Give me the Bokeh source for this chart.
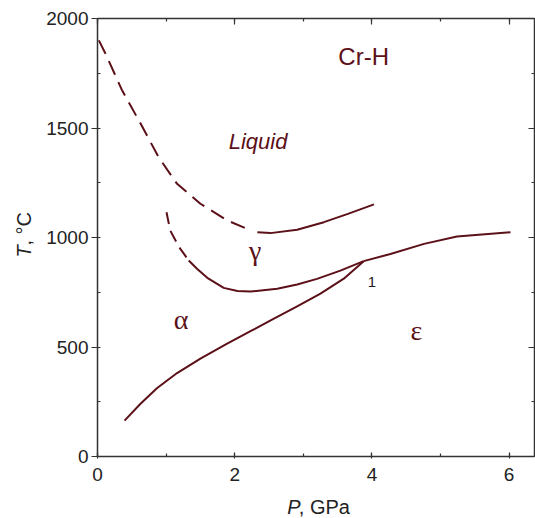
import math
from bokeh.plotting import figure
from bokeh.layouts import row, column
from bokeh.models import Range1d, LinearAxis, SingleIntervalTicker, Label, CustomJSTickFormatter
from bokeh.embed import file_html
from bokeh.resources import INLINE

# ---- data (P in GPa, T in degC) ----
liq_dash_P = [0.02, 0.117, 0.36, 0.63, 0.89, 1.16, 1.50, 1.89, 2.18]
liq_dash_T = [1900, 1839, 1671, 1519, 1367, 1245, 1154, 1078, 1040]

liq_solid_P = [2.33, 2.52, 2.91, 3.30, 3.65, 4.03]
liq_solid_T = [1024, 1020, 1035, 1070, 1108, 1151]

ga_dash_P = [1.006, 1.03, 1.06, 1.19, 1.33]
ga_dash_T = [1115, 1078, 1032, 956, 895]

ga_solid_P = [1.33, 1.45, 1.60, 1.84, 2.04, 2.23, 2.62, 2.91, 3.20, 3.54, 3.88]
ga_solid_T = [895, 857, 816, 770, 756, 753, 766, 785, 811, 849, 892]

ge_P = [3.88, 4.27, 4.76, 5.24, 6.02]
ge_T = [892, 925, 971, 1005, 1024]

ae_P = [0.394, 0.627, 0.87, 1.16, 1.50, 1.89, 2.23, 2.51, 2.91, 3.25, 3.59, 3.88]
ae_T = [164, 241, 313, 381, 447, 515, 572, 619, 686, 744, 812, 892]

x_ticks_major = 2
y_ticks_major = 500

CURVE = "#5c1018"
AX = "#333333"
TXT = "#222222"

LEFT_W = 40
BOT_H = 24
MAIN_W = 535 - LEFT_W
MAIN_H = 518 - BOT_H

p = figure(width=MAIN_W, height=MAIN_H,
           x_range=Range1d(0, 6.37), y_range=Range1d(0, 2000),
           output_backend="svg", toolbar_location=None,
           min_border_left=97 - LEFT_W, min_border_right=1,
           min_border_top=18, min_border_bottom=MAIN_H - 456)
p.grid.visible = False
p.outline_line_color = None
p.background_fill_color = "white"
p.border_fill_color = "white"

def style(ax, ticker, labels=True, tin=0, tout=0, min_in=0, min_out=0):
    ax.ticker = ticker
    ax.axis_line_color = AX
    ax.axis_line_width = 1.5
    ax.major_tick_line_color = AX
    ax.minor_tick_line_color = AX
    ax.major_tick_line_width = 1.2
    ax.minor_tick_line_width = 1.2
    ax.major_tick_in = tin
    ax.major_tick_out = tout
    ax.minor_tick_in = min_in
    ax.minor_tick_out = min_out
    ax.axis_label = None
    if labels:
        ax.major_label_text_font = "Liberation Sans"
        ax.major_label_text_font_size = "19px"
        ax.major_label_text_color = TXT
    else:
        ax.formatter = CustomJSTickFormatter(code="return ''")
        ax.major_label_standoff = 0

xb = p.xaxis[0]
style(xb, SingleIntervalTicker(interval=x_ticks_major, num_minor_ticks=2), True, 4, 2, 3, 0)
xb.major_label_standoff = 9
yl = p.yaxis[0]
style(yl, SingleIntervalTicker(interval=y_ticks_major, num_minor_ticks=2), True, 0, 6, 3, 0)
yl.major_label_standoff = 3

xt = LinearAxis()
style(xt, SingleIntervalTicker(interval=x_ticks_major, num_minor_ticks=2), False, 6, 0, 3, 0)
p.add_layout(xt, "above")
yr = LinearAxis()
style(yr, SingleIntervalTicker(interval=y_ticks_major, num_minor_ticks=2), False, 6, 0, 3, 0)
p.add_layout(yr, "right")

# ---- curves ----
p.line(liq_dash_P, liq_dash_T, line_color=CURVE, line_width=2, line_dash="15 8")
p.line(liq_solid_P, liq_solid_T, line_color=CURVE, line_width=2)
p.line(ga_dash_P, ga_dash_T, line_color=CURVE, line_width=2, line_dash="12 7")
p.line(ga_solid_P, ga_solid_T, line_color=CURVE, line_width=2)
p.line(ge_P, ge_T, line_color=CURVE, line_width=2)
p.line(ae_P, ae_T, line_color=CURVE, line_width=2)

# ---- labels ----
def lab(fig, x, y, t, size, color=CURVE, font="Liberation Sans", style="normal",
        align="center", angle=0):
    fig.add_layout(Label(x=x, y=y, text=t, text_font=font, text_font_size=size,
                         text_color=color, text_font_style=style, text_align=align,
                         text_baseline="alphabetic", angle=angle))

lab(p, 3.88, 1827, "Cr-H", "24px")
lab(p, 2.34, 1437, "Liquid", "22px", style="italic")
lab(p, 2.30, 940, "γ", "28px", font="Liberation Serif")
lab(p, 1.22, 626, "α", "28px", font="Liberation Serif")
lab(p, 4.65, 575, "ε", "28px", font="Liberation Serif")
lab(p, 4.0, 795, "1", "15px", color=TXT)

# ---- axis titles in small text-only panels (pixel coordinates) ----
def text_panel(w, h):
    f = figure(width=w, height=h, x_range=Range1d(0, w), y_range=Range1d(0, h),
               output_backend="svg", toolbar_location=None,
               x_axis_location=None, y_axis_location=None,
               min_border=0, title=None)
    f.grid.visible = False
    f.outline_line_color = None
    f.background_fill_color = "white"
    f.border_fill_color = "white"
    return f

bot = text_panel(MAIN_W, BOT_H)
lab(bot, 255 - LEFT_W, 12, "P", "20px", color=TXT, style="italic", align="left")
lab(bot, 268 - LEFT_W, 12, ", GPa", "20px", color=TXT, align="left")

left = text_panel(LEFT_W, 518)
lab(left, 23, 261, "T", "20px", color=TXT, style="italic", align="left", angle=math.pi / 2)
lab(left, 23, 273, ", °C", "20px", color=TXT, align="left", angle=math.pi / 2)

layout = row(left, column(p, bot, spacing=0), spacing=0)
open("out.html", "w").write(file_html(layout, INLINE))
